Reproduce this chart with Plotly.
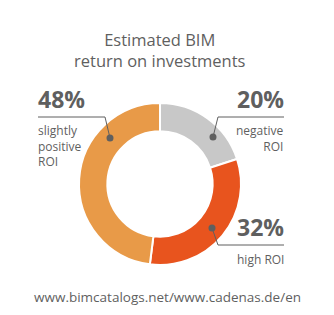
import plotly.graph_objects as go

categories = ["negative ROI", "high ROI", "slightly positive ROI"]
values = [20, 32, 48]
colors = ["#c8c8c8", "#e8541e", "#e89a48"]
title_lines = ["Estimated BIM", "return on investments"]
source = "www.bimcatalogs.net/www.cadenas.de/en"

W, H = 334, 315
FONT = "Open Sans"
TXT = "#5f5f5f"

fig = go.Figure()
fig.add_trace(go.Pie(
    values=values, labels=categories, sort=False, direction="clockwise",
    rotation=0, hole=0.65, marker=dict(colors=colors, line=dict(color="white", width=2)),
    textinfo="none", hoverinfo="label+percent", showlegend=False,
    domain=dict(x=[79 / W, 241 / W], y=[1 - 265 / H, 1 - 103 / H]),
))
fig.add_trace(go.Scatter(x=[0, W], y=[0, H], mode="markers", marker=dict(opacity=0),
                         hoverinfo="skip", showlegend=False))

def pct(v):
    return f"{v}%"

ann = []
ann.append(dict(x=160, y=50, text="<br>".join(title_lines), showarrow=False,
                font=dict(family=FONT, size=16.5, color=TXT), xanchor="center", yanchor="middle"))
ann.append(dict(x=36, y=117, text=f"<b>{pct(values[2])}</b>", showarrow=False,
                font=dict(family=FONT, size=23, color=TXT), xanchor="left", yanchor="bottom"))
ann.append(dict(x=36, y=120, text="slightly<br>positive<br>ROI", showarrow=False, align="left",
                font=dict(family=FONT, size=12, color=TXT), xanchor="left", yanchor="top"))
ann.append(dict(x=286, y=117, text=f"<b>{pct(values[0])}</b>", showarrow=False,
                font=dict(family=FONT, size=23, color=TXT), xanchor="right", yanchor="bottom"))
ann.append(dict(x=286, y=120, text="negative<br>ROI", showarrow=False, align="right",
                font=dict(family=FONT, size=12, color=TXT), xanchor="right", yanchor="top"))
ann.append(dict(x=286, y=245, text=f"<b>{pct(values[1])}</b>", showarrow=False,
                font=dict(family=FONT, size=23, color=TXT), xanchor="right", yanchor="bottom"))
ann.append(dict(x=286, y=249, text="high ROI", showarrow=False, align="right",
                font=dict(family=FONT, size=12, color=TXT), xanchor="right", yanchor="top"))
ann.append(dict(x=167, y=297, text=source, showarrow=False,
                font=dict(family=FONT, size=13.5, color=TXT), xanchor="center", yanchor="middle"))

lc = "#5f5f5f"
shapes = [
    dict(type="path", path="M 38 117 L 105 117 L 110 138", line=dict(color=lc, width=1)),
    dict(type="path", path="M 284 117 L 218 117 L 213 137", line=dict(color=lc, width=1)),
    dict(type="path", path="M 212 228 L 218 245 L 284 245", line=dict(color=lc, width=1)),
    dict(type="circle", x0=106.5, x1=113.5, y0=134.5, y1=141.5, fillcolor=lc, line=dict(width=0)),
    dict(type="circle", x0=209.5, x1=216.5, y0=133.5, y1=140.5, fillcolor=lc, line=dict(width=0)),
    dict(type="circle", x0=208.5, x1=215.5, y0=224.5, y1=231.5, fillcolor=lc, line=dict(width=0)),
]
for s in shapes:
    s.update(xref="x", yref="y", layer="above")

fig.update_layout(
    width=W, height=H, margin=dict(l=0, r=0, t=0, b=0),
    paper_bgcolor="white", plot_bgcolor="rgba(0,0,0,0)",
    xaxis=dict(range=[0, W], visible=False, fixedrange=True),
    yaxis=dict(range=[H, 0], visible=False, fixedrange=True),
    annotations=ann, shapes=shapes,
)
fig.write_html("out.html")
